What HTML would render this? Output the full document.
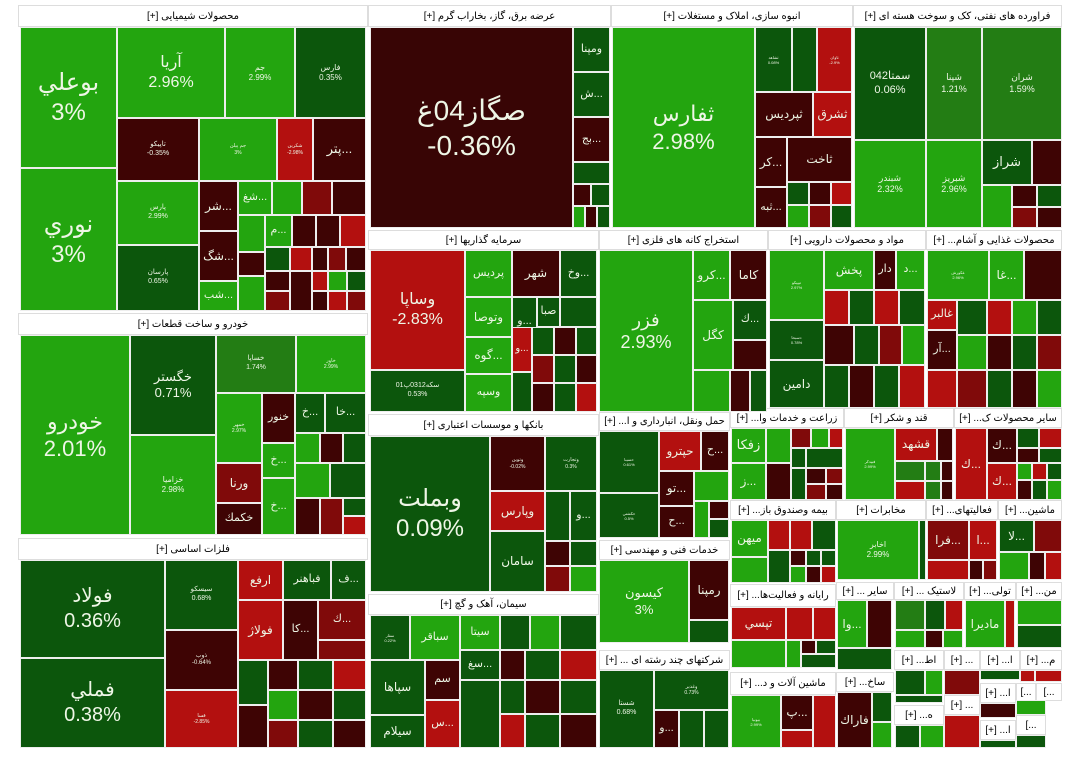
<!DOCTYPE html>
<html><head><meta charset="utf-8">
<style>
body{margin:0;background:#fff;width:1080px;height:773px;overflow:hidden;font-family:"Liberation Sans","DejaVu Sans",sans-serif}
#tm{position:absolute;left:0;top:0;width:1080px;height:773px}
.c{position:absolute;box-sizing:border-box;border:1px solid #eee;color:#eef6e6;display:flex;flex-direction:column;align-items:center;justify-content:center;text-align:center;overflow:hidden;line-height:1.25;white-space:nowrap}
.h{position:absolute;box-sizing:border-box;background:#fff;border:1px solid #ddd;color:#000;font-size:10px;display:flex;align-items:center;justify-content:center;direction:rtl;overflow:hidden;white-space:nowrap}
</style></head><body>
<div id="tm"></div>
<script>
const COL={G:'#23a50f',g:'#0c560c',m:'#237d14',R:'#b3100f',r:'#800a0a',D:'#3e0404',S:'#380505'};
const headers=[
[18,5,350,22,'محصولات شیمیایی [+]'],[368,5,243,22,'عرضه برق، گاز، بخاراب گرم [+]'],[611,5,242,22,'انبوه سازی، املاک و مستغلات [+]'],[853,5,209,22,'فراورده های نفتی، کک و سوخت هسته ای [+]'],
[18,313,350,22,'خودرو و ساخت قطعات [+]'],[18,538,350,22,'فلزات اساسی [+]'],
[368,230,231,20,'سرمایه گذاریها [+]'],[599,230,169,20,'استخراج کانه های فلزی [+]'],[768,230,158,20,'مواد و محصولات دارویی [+]'],[926,230,136,20,'محصولات غذایی و آشام... [+]'],
[368,414,231,22,'بانکها و موسسات اعتباری [+]'],[368,594,231,21,'سیمان، آهک و گچ [+]'],
[599,412,131,19,'حمل ونقل، انبارداری و ا... [+]'],[730,408,114,20,'زراعت و خدمات وا... [+]'],[844,408,110,20,'قند و شکر [+]'],[954,408,108,20,'سایر محصولات ک... [+]'],
[599,540,131,20,'خدمات فنی و مهندسی [+]'],[599,650,131,20,'شرکتهای چند رشته ای ... [+]'],
[730,500,106,20,'بیمه وصندوق باز... [+]'],[836,500,90,20,'مخابرات [+]'],[926,500,72,20,'فعالیتهای... [+]'],[998,500,64,20,'ماشین... [+]'],
[730,584,106,23,'رایانه و فعالیت‌ها... [+]'],[730,672,106,23,'ماشین آلات و د... [+]'],
[836,582,58,18,'سایر ... [+]'],[894,582,70,18,'لاستیک ... [+]'],[964,582,52,18,'تولی... [+]'],[1016,582,46,18,'من... [+]'],
[836,672,58,20,'ساخ... [+]'],[894,650,50,20,'اط... [+]'],[944,650,36,20,'... [+]'],[980,650,40,20,'ا... [+]'],[1020,650,42,20,'م... [+]'],
[894,705,50,20,'ه... [+]'],[944,695,36,20,'... [+]'],[980,683,36,20,'ا... [+]'],[1016,683,20,18,'...]'],[1036,683,26,18,'...]'],[980,720,36,20,'ا... [+]'],[1016,715,30,20,'...]']
];
const cells=[
[20,27,97,141,'G','بوعلي|3%',24],[20,168,97,143,'G','نوري|3%',24],[117,27,108,91,'G','آريا|2.96%',16],[225,27,70,91,'G','جم|2.99%',8],[295,27,71,91,'g','فارس|0.35%',8],
[117,118,82,63,'D','تاپيكو|-0.35%',7],[199,118,78,63,'G','جم پيلن|3%',5],[277,118,36,63,'R','شكربن|-2.98%',5],[313,118,53,63,'D','پتر...',13],
[117,181,82,64,'G','پارس|2.99%',7],[117,245,82,66,'g','پارسان|0.65%',7],
[199,181,39,50,'D','شر...',12],[199,231,39,50,'D','شگ...',12],[199,281,39,30,'G','شب...',11],
[238,181,34,34,'G','شغ...',11],[272,181,30,34,'G',''],[302,181,30,34,'r',''],[332,181,34,34,'D',''],
[238,215,27,37,'G',''],[265,215,27,32,'G','م...',11],[292,215,24,32,'D',''],[316,215,24,32,'D',''],[340,215,26,32,'R',''],
[238,252,27,24,'D',''],[238,276,27,35,'G',''],[265,247,25,24,'g',''],[290,247,22,24,'R',''],[312,247,16,24,'D',''],[328,247,18,24,'r',''],[346,247,20,24,'D',''],
[265,271,25,20,'D',''],[265,291,25,20,'r',''],[290,271,22,40,'D',''],[312,271,16,20,'R',''],[312,291,16,20,'D',''],[328,271,19,20,'G',''],[347,271,19,20,'g',''],[328,291,19,20,'R',''],[347,291,19,20,'r',''],
[20,335,110,200,'G','خودرو|2.01%',22],[130,335,86,100,'g','خگستر|0.71%',13],[130,435,86,100,'G','خزاميا|2.98%',8],[216,335,80,58,'m','خساپا|1.74%',7],[296,335,70,58,'G','خاور|2.99%',5],
[216,393,46,70,'G','خمهر|2.97%',5],[262,393,33,50,'D','خنور',11],[295,393,30,40,'g','خ...',11],[325,393,41,40,'g','خا...',11],
[295,433,25,30,'G',''],[320,433,23,30,'D',''],[343,433,23,30,'g',''],[262,443,33,35,'G','خ...',11],[295,463,35,35,'G',''],[330,463,36,35,'g',''],
[216,463,46,40,'r','ورنا',12],[216,503,46,32,'D','خكمك',11],[262,478,33,57,'G','خ...',11],[295,498,25,37,'D',''],[320,498,23,37,'r',''],[343,498,23,18,'g',''],[343,516,23,19,'R',''],
[20,560,145,98,'g','فولاد|0.36%',20],[20,658,145,90,'g','فملي|0.38%',20],[165,560,73,70,'g','سيسكو|0.68%',7],[165,630,73,60,'D','ذوب|-0.64%',6],[165,690,73,58,'R','فسا|-2.85%',5],
[238,560,45,40,'R','ارفع',12],[283,560,48,40,'g','فباهنر',11],[331,560,35,40,'g','ف...',11],[238,600,45,60,'R','فولاژ',12],[283,600,35,60,'D','كا...',11],[318,600,48,40,'r','ك...',11],[318,640,48,20,'r',''],
[238,660,30,45,'g',''],[268,660,30,30,'D',''],[298,660,35,30,'g',''],[333,660,33,30,'R',''],[238,705,30,43,'D',''],[268,690,30,30,'G',''],[298,690,35,30,'D',''],[333,690,33,30,'g',''],[268,720,30,28,'r',''],[298,720,35,28,'g',''],[333,720,33,28,'D',''],
[370,27,203,201,'S','صگاز04غ|-0.36%',28],[573,27,37,45,'g','ومپنا',11],[573,72,37,45,'g','ش...',11],[573,117,37,45,'D','بج...',11],[573,162,37,22,'g',''],[573,184,18,22,'D',''],[591,184,19,22,'g',''],[573,206,12,22,'G',''],[585,206,12,22,'D',''],[597,206,13,22,'g',''],
[612,27,143,201,'G','ثفارس|2.98%',22],[755,27,37,65,'g','ثشاهد|0.08%',4],[792,27,25,65,'g',''],[817,27,35,65,'R','ثاوان|-2.9%',4],
[755,92,58,45,'D','ثپرديس',12],[813,92,39,45,'R','ثشرق',12],[755,137,32,50,'D','كر...',12],[787,137,65,45,'D','ثاخت',12],[755,187,32,41,'D','ثبه...',11],
[787,182,22,23,'g',''],[809,182,22,23,'D',''],[831,182,21,23,'R',''],[787,205,22,23,'G',''],[809,205,22,23,'r',''],[831,205,21,23,'g',''],
[854,27,72,113,'g','سمتا042|0.06%',11],[926,27,56,113,'m','شپنا|1.21%',9],[982,27,80,113,'m','شران|1.59%',9],[854,140,72,88,'G','شبندر|2.32%',9],[926,140,56,88,'G','شبريز|2.96%',9],
[982,140,50,45,'g','شراز',13],[1032,140,30,45,'D',''],[982,185,30,43,'G',''],[1012,185,25,22,'D',''],[1037,185,25,22,'g',''],[1012,207,25,21,'r',''],[1037,207,25,21,'D',''],
[370,250,95,120,'R','وساپا|-2.83%',16],[370,370,95,42,'g','سكه0312پ01|0.53%',7],[465,250,47,47,'G','پرديس',11],[512,250,48,47,'D','شهر',12],[560,250,37,47,'g','وخ...',11],
[465,297,47,40,'G','وتوصا',12],[512,297,25,50,'g','و...',11],[537,297,23,30,'g','صبا',11],[560,297,37,30,'g',''],[465,337,47,37,'G','گوه...',12],[465,374,47,38,'G','وسپه',11],
[512,327,20,45,'R','و...',10],[532,327,22,28,'g',''],[554,327,22,28,'D',''],[576,327,21,28,'g',''],[532,355,22,28,'r',''],[554,355,22,28,'g',''],[576,355,21,28,'D',''],[512,372,20,40,'g',''],[532,383,22,29,'D',''],[554,383,22,29,'g',''],[576,383,21,29,'R',''],
[599,250,94,162,'G','فزر|2.93%',18],[693,250,37,50,'G','كرو...',12],[730,250,37,50,'D','كاما',12],[693,300,40,70,'G','كگل',12],[733,300,34,40,'g','ك...',11],
[733,340,34,30,'D',''],[693,370,37,42,'G',''],[730,370,20,42,'D',''],[750,370,17,42,'g',''],
[769,250,55,70,'G','تيپيكو|2.97%',4],[769,320,55,40,'g','دسبحا|0.78%',4],[769,360,55,48,'g','دامين',12],[824,250,50,40,'G','پخش',12],[874,250,22,40,'D','دار',11],[896,250,29,40,'G','د...',11],
[824,290,25,35,'R',''],[849,290,25,35,'g',''],[874,290,25,35,'R',''],[899,290,26,35,'g',''],[824,325,30,40,'D',''],[854,325,25,40,'g',''],[879,325,23,40,'r',''],[902,325,23,40,'G',''],
[824,365,25,43,'g',''],[849,365,25,43,'D',''],[874,365,25,43,'g',''],[899,365,26,43,'R',''],
[927,250,62,50,'G','غكورش|2.96%',4],[989,250,35,50,'G','غا...',12],[1024,250,38,50,'D',''],[927,300,30,30,'R','غالبر',11],[927,330,30,40,'D','آر...',11],[927,370,30,38,'R',''],
[957,300,30,35,'g',''],[987,300,25,35,'R',''],[1012,300,25,35,'G',''],[1037,300,25,35,'g',''],[957,335,30,35,'G',''],[987,335,25,35,'D',''],[1012,335,25,35,'g',''],[1037,335,25,35,'r',''],
[957,370,30,38,'r',''],[987,370,25,38,'g',''],[1012,370,25,38,'D',''],[1037,370,25,38,'G',''],
[370,436,120,156,'g','وبملت|0.09%',24],[490,436,55,55,'D','وتوين|-0.02%',5],[545,436,52,55,'g','وتجارت|0.3%',5],[490,491,55,40,'R','وپارس',12],[545,491,25,50,'g',''],[570,491,27,50,'g','و...',11],
[490,531,55,61,'g','سامان',12],[545,541,25,25,'D',''],[570,541,27,25,'g',''],[545,566,25,26,'r',''],[570,566,27,26,'G',''],
[370,615,40,45,'g','سفار|0.22%',4],[410,615,50,45,'G','سباقر',11],[460,615,40,35,'G','سيتا',11],[500,615,30,35,'g',''],[530,615,30,35,'G',''],[560,615,37,35,'g',''],
[370,660,55,55,'g','سپاها',12],[370,715,55,33,'g','سيلام',12],[425,660,35,40,'D','سم',11],[425,700,35,48,'R','س...',11],[460,650,40,30,'g','سغ...',11],[460,680,40,68,'g',''],
[500,650,25,30,'D',''],[525,650,35,30,'g',''],[560,650,37,30,'R',''],[500,680,25,34,'g',''],[525,680,35,34,'D',''],[560,680,37,34,'g',''],[500,714,25,34,'R',''],[525,714,35,34,'g',''],[560,714,37,34,'D',''],
[599,431,60,62,'g','حسينا|0.61%',4],[599,493,60,45,'g','حكشتي|0.5%',4],[659,431,42,40,'R','حپترو',12],[701,431,28,40,'D','ح...',11],[659,471,35,35,'D','تو...',12],[659,506,35,32,'D','ح...',11],
[694,471,35,30,'G',''],[694,501,15,37,'G',''],[709,501,20,18,'D',''],[709,519,20,19,'g',''],
[731,428,35,35,'G','زفكا',13],[731,463,35,37,'G','ز...',12],[766,428,25,35,'G',''],[791,428,20,20,'r',''],[811,428,18,20,'G',''],[829,428,14,20,'R',''],[791,448,15,20,'g',''],[806,448,37,20,'g',''],
[766,463,25,37,'D',''],[791,468,15,32,'g',''],[806,468,20,16,'D',''],[826,468,17,16,'r',''],[806,484,20,16,'r',''],[826,484,17,16,'D',''],
[845,428,50,72,'G','فبيدكر|2.99%',4],[895,428,42,33,'R','قشهد',12],[937,428,16,33,'D',''],[895,461,30,20,'m',''],[925,461,16,20,'m',''],[941,461,12,20,'D',''],[895,481,30,19,'R',''],[925,481,16,19,'m',''],[941,481,12,19,'D',''],
[955,428,32,72,'R','ك...',12],[987,428,30,35,'D','ك...',12],[987,463,30,37,'R','ك...',12],[1017,428,22,20,'g',''],[1039,428,23,20,'R',''],[1017,448,22,15,'D',''],[1039,448,23,15,'g',''],[1017,463,15,17,'G',''],[1032,463,15,17,'R',''],[1047,463,15,17,'g',''],[1017,480,15,20,'D',''],[1032,480,15,20,'g',''],[1047,480,15,20,'G',''],
[599,560,90,83,'G','كيسون|3%',13],[689,560,40,60,'D','رمپنا',12],[689,620,40,23,'g',''],
[599,670,55,78,'g','شستا|0.68%',7],[654,670,75,40,'g','وغدير|0.73%',5],[654,710,25,38,'D','و...',11],[679,710,25,38,'g',''],[704,710,25,38,'g',''],
[731,520,37,37,'G','ميهن',12],[731,557,37,26,'G',''],[768,520,22,30,'R',''],[790,520,22,30,'R',''],[812,520,24,30,'g',''],[768,550,22,33,'g',''],[790,550,16,16,'D',''],[806,550,15,16,'g',''],[821,550,15,16,'g',''],[790,566,16,17,'G',''],[806,566,15,17,'D',''],[821,566,15,17,'R',''],
[837,520,82,60,'G','اخابر|2.99%',8],[919,520,7,60,'g',''],
[927,520,42,40,'r','فرا...',12],[969,520,28,40,'R','ا...',12],[927,560,42,20,'R',''],[969,560,14,20,'D',''],[983,560,14,20,'r',''],
[999,520,35,32,'g','لا...',12],[1034,520,28,32,'r',''],[999,552,30,28,'G',''],[1029,552,16,28,'D',''],[1045,552,17,28,'R',''],
[731,607,55,33,'R','تپسي',12],[786,607,27,33,'R',''],[813,607,23,33,'R',''],[731,640,55,28,'G',''],[786,640,15,28,'G',''],[801,640,15,14,'D',''],[816,640,20,14,'g',''],[801,654,35,14,'g',''],
[731,695,50,53,'G','بيونيا|2.99%',4],[781,695,32,35,'D','پ...',12],[813,695,23,53,'R',''],[781,730,32,18,'R',''],
[837,600,30,48,'G','وا...',12],[867,600,25,48,'D',''],[837,648,55,22,'g',''],
[837,692,35,56,'D','فاراك',12],[872,692,20,30,'g',''],[872,722,20,26,'G',''],
[895,600,30,30,'m',''],[925,600,20,30,'g',''],[945,600,18,30,'R',''],[895,630,30,18,'G',''],[925,630,18,18,'D',''],[943,630,20,18,'G',''],
[965,600,40,48,'G','ماديرا',12],[1005,600,10,48,'R',''],[1017,600,45,25,'G',''],[1017,625,45,23,'g',''],
[895,670,30,25,'g',''],[925,670,18,25,'G',''],[895,695,48,8,'g',''],[944,670,36,25,'r',''],[980,670,40,10,'g',''],[1020,670,15,12,'R',''],[1035,670,27,12,'R',''],
[895,725,25,23,'g',''],[920,725,24,23,'G',''],[944,715,36,33,'R',''],[980,703,36,15,'D',''],[1016,700,30,15,'G',''],[980,740,36,8,'g',''],[1016,735,30,13,'g','']
];
const tm=document.getElementById('tm');
headers.forEach(function(h){
  const d=document.createElement('div');
  d.className='h';
  
  
  d.style.cssText='left:'+h[0]+'px;top:'+h[1]+'px;width:'+h[2]+'px;height:'+h[3]+'px';
  d.textContent=h[4];
  tm.appendChild(d);
});
cells.forEach(function(c){
  const d=document.createElement('div');
  d.className='c';
  
  
  d.style.cssText='left:'+c[0]+'px;top:'+c[1]+'px;width:'+c[2]+'px;height:'+c[3]+'px;background:'+COL[c[4]]+';font-size:'+(c[6]||10)+'px';
  if(c[5]){c[5].split('|').forEach(function(t){const s=document.createElement('div');s.textContent=t;if(/[0-9]/.test(t))s.style.direction='ltr';d.appendChild(s);});}
  tm.appendChild(d);
});
</script>
</body></html>
